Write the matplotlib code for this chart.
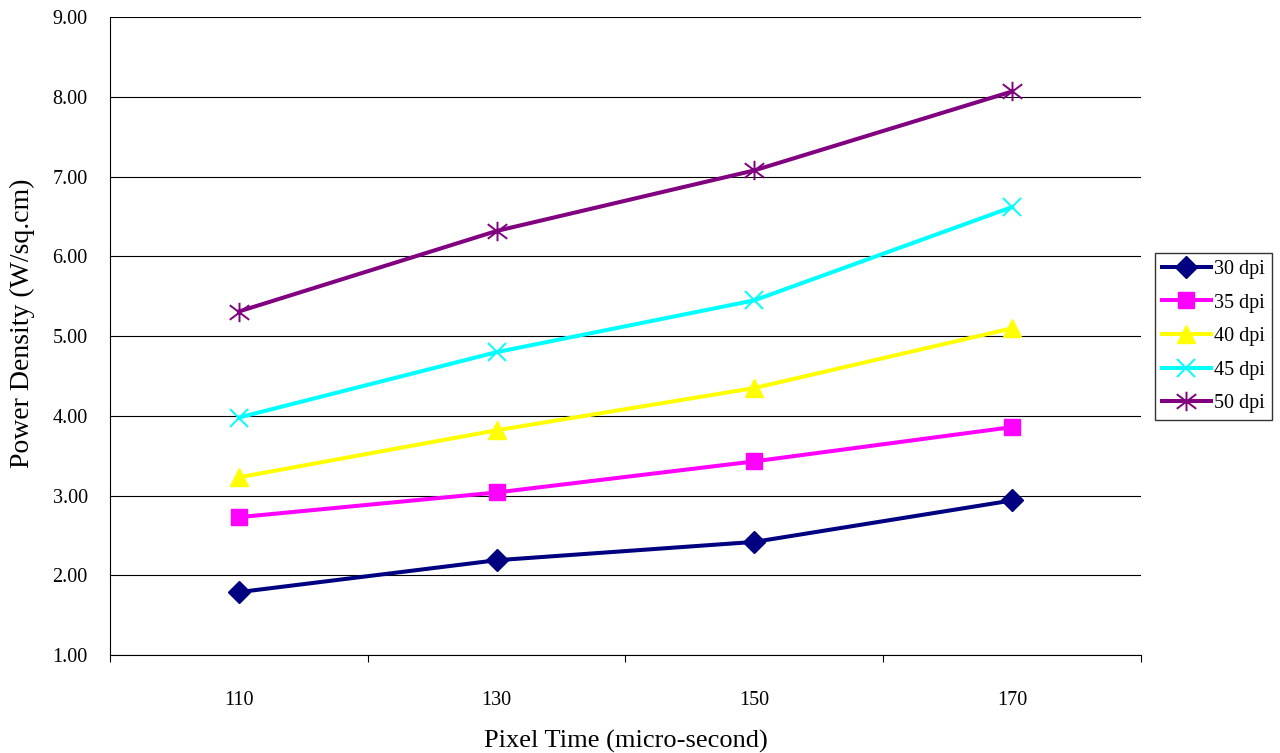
import numpy as np
import matplotlib.pyplot as plt
from matplotlib.path import Path

plt.rcParams['font.family'] = ['Liberation Serif', 'DejaVu Serif']

# Pixel time categories and power density per resolution
pixel_time = ['110', '130', '150', '170']
dpi_30 = [1.79, 2.19, 2.42, 2.94]
dpi_35 = [2.73, 3.04, 3.43, 3.86]
dpi_40 = [3.23, 3.82, 4.35, 5.10]
dpi_45 = [3.98, 4.80, 5.45, 6.62]
dpi_50 = [5.31, 6.32, 7.08, 8.07]

# star marker: an X crossed by a vertical stroke
star = Path([(0, -1), (0, 1), (-1, -0.75), (1, 0.75), (-1, 0.75), (1, -0.75)],
            [Path.MOVETO, Path.LINETO] * 3)

series = [
    ('30 dpi', dpi_30, '#000080', 'D', 11),
    ('35 dpi', dpi_35, '#FF00FF', 's', 12),
    ('40 dpi', dpi_40, '#FFFF00', '^', 13),
    ('45 dpi', dpi_45, '#00FFFF', 'x', 13),
    ('50 dpi', dpi_50, '#800080', star, 14),
]

fig = plt.figure(figsize=(12.8, 7.53), dpi=100)
ax = fig.add_axes([0.0859, 0.130, 0.8055, 0.847])

x = np.arange(len(pixel_time))
for label, vals, color, marker, ms in series:
    thin = marker is star or marker == 'x'
    ax.plot(x, vals, color=color, lw=2.9, marker=marker, ms=ms,
            mew=1.4 if thin else 1,
            mec=color, mfc=color, label=label, zorder=3)

ax.set_ylim(1, 9)
ax.set_yticks(np.arange(1, 10))
ax.set_yticklabels([f'{v:.2f}' for v in range(1, 10)])
ax.yaxis.grid(True, color='black', lw=0.8)
ax.set_axisbelow(True)

ax.set_xlim(-0.5, len(pixel_time) - 0.5)
ax.set_xticks(x)
ax.set_xticklabels(pixel_time)
ax.set_xticks(np.arange(-0.5, len(pixel_time)), minor=True)
ax.tick_params(axis='x', which='major', length=0, pad=26, labelsize=14.5)
ax.tick_params(axis='x', which='minor', length=5, direction='out', width=0.8)
ax.tick_params(axis='y', length=0, pad=16, labelsize=14.5)

for side in ('top', 'right'):
    ax.spines[side].set_visible(False)
ax.spines['left'].set_linewidth(0.8)
ax.spines['bottom'].set_linewidth(0.8)

fig.text(22 / 1280, 1 - 323 / 753, 'Power Density (W/sq.cm)', fontsize=20,
         rotation=90, ha='center', va='center')
ax.set_xlabel('Pixel Time (micro-second)', fontsize=19, labelpad=14)

leg = fig.legend(loc='center left', bbox_to_anchor=(0.9025, 0.553),
                 fontsize=14.5, frameon=True, fancybox=False, edgecolor='black',
                 handlelength=2.4, handletextpad=0.15, borderpad=0.35,
                 labelspacing=0.72, borderaxespad=0)
leg.get_frame().set_linewidth(1.0)

fig.savefig('out.png', dpi=100)
